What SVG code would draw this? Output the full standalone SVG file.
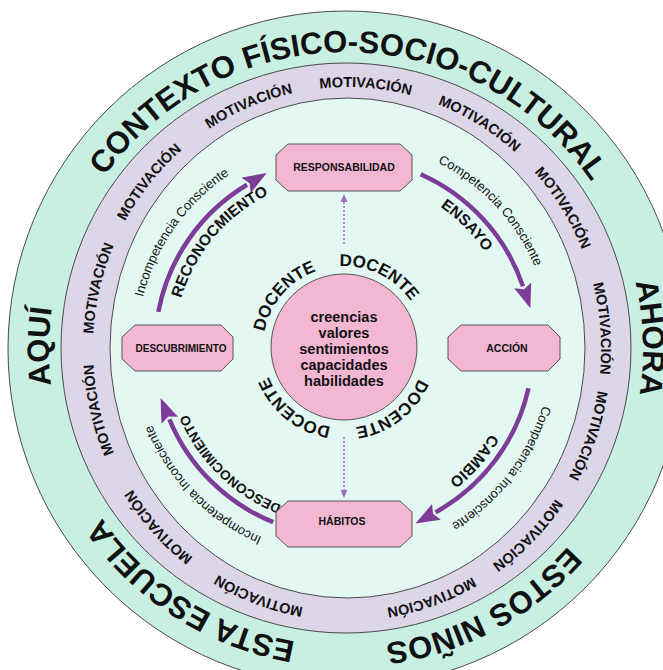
<svg xmlns="http://www.w3.org/2000/svg" width="663" height="670" viewBox="0 0 663 670">
<style>
text{font-family:"Liberation Sans",Arial,sans-serif;fill:#111;text-anchor:middle}
.ring{stroke:#4a4a4a;stroke-width:1}
.big{font-weight:bold;font-size:31px}
.mot{font-weight:bold;font-size:14.5px}
.doc{font-weight:bold;font-size:17px}
.lbl{font-weight:bold;font-size:15.5px}
.sm{font-size:13px}
.node{fill:#f3b7d4;stroke:#555;stroke-width:1}
.nt{font-weight:bold;font-size:10.5px}
.ct{font-weight:bold;font-size:14.5px}
.arc{fill:none;stroke:#7c3c98;stroke-width:4.5;marker-end:url(#ah)}
.dot{fill:none;stroke:#9b72b8;stroke-width:1.5;stroke-dasharray:2 2;marker-end:url(#sh)}
</style>
<defs>
<marker id="ah" markerUnits="userSpaceOnUse" viewBox="0 0 24 18" markerWidth="24" markerHeight="18" refX="1" refY="9" orient="auto">
<path d="M0,0 L24,9 L0,18 L4,9 Z" fill="#7c3c98"/>
</marker>
<marker id="sh" markerUnits="userSpaceOnUse" viewBox="0 0 8 7" markerWidth="8" markerHeight="7" refX="1" refY="3.5" orient="auto">
<path d="M0,0 L8,3.5 L0,7 Z" fill="#9b72b8"/>
</marker>
<path id="pOuter" d="M643,349 A297,297 0 0 1 49,349 A297,297 0 0 1 643,349 A297,297 0 0 1 49,349 A297,297 0 0 1 643,349"/>
<path id="pMot" d="M601,349 A254,262 0 0 1 93,349 A254,262 0 0 1 601,349 A254,262 0 0 1 93,349 A254,262 0 0 1 601,349"/>
<path id="pDoc" d="M425,347 A81,81 0 0 1 263,347 A81,81 0 0 1 425,347 A81,81 0 0 1 263,347 A81,81 0 0 1 425,347"/>
<path id="pIn" d="M514,347 A170,170 0 0 1 174,347 A170,170 0 0 1 514,347 A170,170 0 0 1 174,347 A170,170 0 0 1 514,347"/>
<path id="pOut" d="M551,347 A207,207 0 0 1 137,347 A207,207 0 0 1 551,347 A207,207 0 0 1 137,347 A207,207 0 0 1 551,347"/>
</defs>
<rect width="663" height="670" fill="#fff"/>

<g id="rings">
<circle class="ring" cx="346" cy="349" r="338" fill="#c8f0e2"/>
<circle class="ring" cx="346" cy="348" r="285" fill="#ddd5e8"/>
<ellipse class="ring" cx="347.5" cy="348" rx="237.5" ry="250" fill="#e3f8f2"/>
</g>

<g id="outer-labels">
<text class="big"><textPath href="#pOuter" startOffset="1402">CONTEXTO FÍSICO-SOCIO-CULTURAL</textPath></text>
<text class="big"><textPath href="#pOuter" startOffset="1854">AHORA</textPath></text>
<text class="big"><textPath href="#pOuter" startOffset="935">AQUÍ</textPath></text>
<text class="big"><textPath href="#pOuter" startOffset="635">ESTA ESCUELA</textPath></text>
<text class="big"><textPath href="#pOuter" startOffset="2186">ESTOS NIÑOS</textPath></text>
</g>

<g id="motivacion">
<text class="mot"><textPath href="#pMot" startOffset="1234">MOTIVACIÓN</textPath></text>
<text class="mot"><textPath href="#pMot" startOffset="1354">MOTIVACIÓN</textPath></text>
<text class="mot"><textPath href="#pMot" startOffset="1473">MOTIVACIÓN</textPath></text>
<text class="mot"><textPath href="#pMot" startOffset="1600">MOTIVACIÓN</textPath></text>
<text class="mot"><textPath href="#pMot" startOffset="1708">MOTIVACIÓN</textPath></text>
<text class="mot"><textPath href="#pMot" startOffset="1825">MOTIVACIÓN</textPath></text>
<text class="mot"><textPath href="#pMot" startOffset="1940">MOTIVACIÓN</textPath></text>
<text class="mot"><textPath href="#pMot" startOffset="495">MOTIVACIÓN</textPath></text>
<text class="mot"><textPath href="#pMot" startOffset="617">MOTIVACIÓN</textPath></text>
<text class="mot"><textPath href="#pMot" startOffset="749">MOTIVACIÓN</textPath></text>
<text class="mot"><textPath href="#pMot" startOffset="871">MOTIVACIÓN</textPath></text>
<text class="mot"><textPath href="#pMot" startOffset="989">MOTIVACIÓN</textPath></text>
<text class="mot"><textPath href="#pMot" startOffset="1115">MOTIVACIÓN</textPath></text>
</g>

<g id="connectors">
<path class="arc" d="M158.3,311.9 A189,189 0 0 1 247.0,184.8"/>
<path class="arc" d="M420.6,174.2 A189,189 0 0 1 523.0,286.4"/>
<path class="arc" d="M528.5,388.2 A189,189 0 0 1 435.6,512.3"/>
<path class="arc" d="M273.2,522.2 A189,189 0 0 1 169.4,419.3"/>
<path class="dot" d="M344,244 V201"/>
<path class="dot" d="M344,437 V491"/>
</g>

<g id="arrow-labels">
<text class="lbl"><textPath href="#pIn" startOffset="653">RECONOCMIENTO</textPath></text>
<text class="lbl"><textPath href="#pIn" startOffset="935">ENSAYO</textPath></text>
<text class="lbl"><textPath href="#pIn" startOffset="1190">CAMBIO</textPath></text>
<text class="lbl" style="font-size:13.5px"><textPath href="#pIn" startOffset="398">DESCONOCIMIENTO</textPath></text>
<text class="sm"><textPath href="#pOut" startOffset="777">Incompetencia Consciente</textPath></text>
<text class="sm"><textPath href="#pOut" startOffset="1145">Competencia Consciente</textPath></text>
<text class="sm"><textPath href="#pOut" startOffset="1436">Competencia Inconsciente</textPath></text>
<text class="sm"><textPath href="#pOut" startOffset="490">Incompetencia Inconsciente</textPath></text>
</g>

<g id="centro">
<circle cx="344" cy="347" r="73" fill="#f3b7d4" stroke="#555" stroke-width="1"/>
<text class="ct" x="344" y="322">creencias</text>
<text class="ct" x="344" y="338">valores</text>
<text class="ct" x="344" y="354">sentimientos</text>
<text class="ct" x="344" y="370">capacidades</text>
<text class="ct" x="344" y="386">habilidades</text>
</g>

<g id="docente">
<text class="doc"><textPath href="#pDoc" startOffset="311">DOCENTE</textPath></text>
<text class="doc"><textPath href="#pDoc" startOffset="418">DOCENTE</textPath></text>
<text class="doc"><textPath href="#pDoc" startOffset="582">DOCENTE</textPath></text>
<text class="doc"><textPath href="#pDoc" startOffset="182">DOCENTE</textPath></text>
</g>

<g id="responsabilidad">
<path class="node" d="M288,144 H400 L412,155 V180 L400,191 H288 L276,180 V155 Z"/>
<text class="nt" x="344" y="171">RESPONSABILIDAD</text>
</g>
<g id="descubrimiento">
<path class="node" d="M135,325 H221 L233,337 V359 L221,371 H135 L122,359 V337 Z"/>
<text class="nt" x="181" y="352" style="font-size:10px">DESCUBRIMIENTO</text>
</g>
<g id="accion">
<path class="node" d="M461,325 H548 L560,337 V359 L548,371 H461 L448,359 V337 Z"/>
<text class="nt" x="507" y="351.5">ACCIÓN</text>
</g>
<g id="habitos">
<path class="node" d="M288,501 H400 L412,512 V536 L400,547 H288 L276,536 V512 Z"/>
<text class="nt" x="342" y="525">HÁBITOS</text>
</g>
</svg>
